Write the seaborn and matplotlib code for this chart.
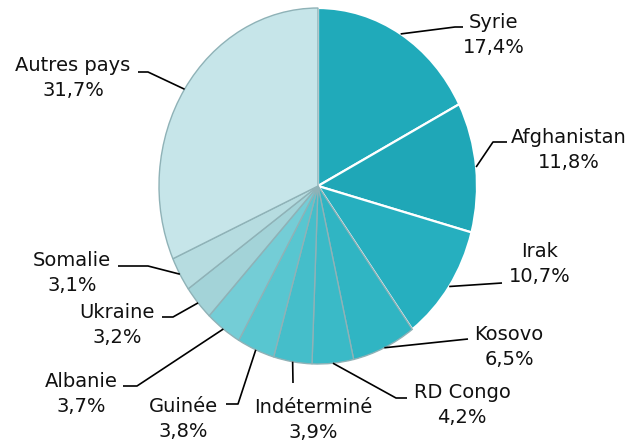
import numpy as np
import matplotlib
matplotlib.use("Agg")
import matplotlib.pyplot as plt
import seaborn as sns

sns.set_theme(style="white")
plt.rcParams['font.family'] = ['DejaVu Sans']

countries = ["Syrie", "Afghanistan", "Irak", "Kosovo", "RD Congo", "Indéterminé",
             "Guinée", "Albanie", "Ukraine", "Somalie", "Autres pays"]
shares = [17.4, 11.8, 10.7, 6.5, 4.2, 3.9, 3.8, 3.7, 3.2, 3.1, 31.7]
colors = ["#20AABA", "#1FA7B7", "#26AFBF", "#30B5C3", "#3ABAC7", "#45BECA",
          "#58C6D0", "#74CDD6", "#A3D3D8", "#B6DCE0", "#C6E5E9"]

# layout (figure pixels, origin top-left)
W, H = 644, 448
cx, cy, rx, ry = 318, 186, 159, 178
label_xy = [(494, 35), (569, 150), (540, 264), (509, 347), (462, 405), (313, 420),
            (183, 419), (81, 394), (117, 325), (72, 273), (73, 78)]
elbows = [[(455, 27), (463, 27)], [(493, 142), (507, 142)], [(502, 283)], [(468, 339)],
          [(396, 398), (407, 398)], [(293, 383)], [(238, 404), (226, 404)],
          [(137, 386), (123, 386)], [(173, 317), (162, 317)], [(148, 266), (118, 266)],
          [(148, 72), (138, 72)]]

fig = plt.figure(figsize=(W / 100, H / 100), dpi=100)
ax = fig.add_axes([(cx - rx) / W, (H - cy - ry) / H, 2 * rx / W, 2 * ry / H])
wedges, _ = ax.pie(shares, colors=colors, startangle=90, counterclock=False,
                   wedgeprops=dict(edgecolor="#8FB2B7", linewidth=1.0))
for w in wedges[:3]:
    w.set_edgecolor("white")
    w.set_linewidth(1.6)
ax.set_aspect("auto")
ax.set_xlim(-1, 1)
ax.set_ylim(-1, 1)
ax.axis("off")

ov = fig.add_axes([0, 0, 1, 1], facecolor="none")
ov.set_xlim(0, W)
ov.set_ylim(H, 0)
ov.axis("off")

cum = np.cumsum([0] + shares[:-1])
total = sum(shares)
for i, name in enumerate(countries):
    mid = (cum[i] + shares[i] / 2) / total * 2 * np.pi
    sx = cx + rx * np.sin(mid)
    sy = cy - ry * np.cos(mid)
    pts = [(sx, sy)] + elbows[i]
    ov.plot([p[0] for p in pts], [p[1] for p in pts], color="black", lw=1.2,
            solid_capstyle="butt")
    lab = f"{name}\n{str(shares[i]).replace('.', ',')}%"
    ov.text(label_xy[i][0], label_xy[i][1], lab, ha="center", va="center",
            fontsize=14, linespacing=1.38, color="#111111")

fig.savefig("out.png", dpi=100)
